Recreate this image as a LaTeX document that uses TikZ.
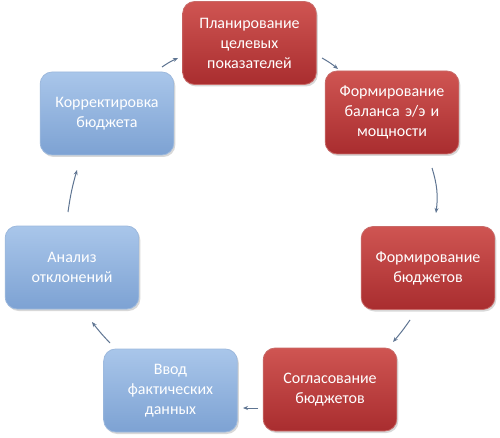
\documentclass[tikz,border=0pt]{standalone}
\usepackage{fontspec}
\setmainfont{Carlito}
\usetikzlibrary{arrows.meta,shadows}
\definecolor{redtop}{HTML}{CF5552}
\definecolor{redbot}{HTML}{A92D2F}
\definecolor{redline}{HTML}{C86A68}
\definecolor{bluetop}{HTML}{A9C6EA}
\definecolor{bluebot}{HTML}{7DA2D3}
\definecolor{blueline}{HTML}{9DB9DD}
\definecolor{arrowcol}{HTML}{5F7592}
\tikzset{
  box/.style={rounded corners=12pt, minimum width=133pt, minimum height=83pt,
    text width=127pt, align=center, text=white, font=\fontsize{16}{20}\selectfont,
    drop shadow={shadow xshift=1.5pt, shadow yshift=-2pt, opacity=0.3}},
  redbox/.style={box, draw=redline, line width=0.8pt, top color=redtop, bottom color=redbot},
  bluebox/.style={box, draw=blueline, line width=0.8pt, top color=bluetop, bottom color=bluebot},
  flow/.style={draw=arrowcol, line width=1pt, -{Stealth[length=5pt,width=4pt]}}
}
\begin{document}
\begin{tikzpicture}[x=1pt,y=1pt]
\useasboundingbox (0,0) rectangle (500,437);
\fill[white] (0,0) rectangle (500,437);
\node[redbox] (plan) at (249.5,394) {Планирование\\целевых\\показателей};
\node[redbox] (bal) at (392,324.5) {Формирование\\баланса э/э и\\мощности};
\node[redbox] (form) at (428,169) {Формирование\\бюджетов};
\node[redbox] (agree) at (330,47.5) {Согласование\\бюджетов};
\node[bluebox] (input) at (170.5,46.5) {Ввод\\фактических\\данных};
\node[bluebox] (anal) at (72,169.5) {Анализ\\отклонений};
\node[bluebox] (corr) at (107,323.5) {Корректировка\\бюджета};
% arrow end points on the circle
\coordinate (a1s) at (322,379);
\coordinate (a1e) at (338,368);
\coordinate (a2s) at (432,269);
\coordinate (a2e) at (436,224);
\coordinate (a3s) at (410,117);
\coordinate (a3e) at (393,95);
\coordinate (a4s) at (258,29);
\coordinate (a4e) at (243,29);
\coordinate (a5s) at (110,94);
\coordinate (a5e) at (92,115);
\coordinate (a6s) at (68,225);
\coordinate (a6e) at (77,267);
\coordinate (a7s) at (162,370);
\coordinate (a7e) at (178,379);
\draw[flow] (a1s) to[bend left=5] (a1e);
\draw[flow] (a2s) to[bend left=12] (a2e);
\draw[flow] (a3s) to[bend left=3] (a3e);
\draw[flow] (a4s) -- (a4e);
\draw[flow] (a5s) to[bend left=3] (a5e);
\draw[flow] (a6s) to[bend left=4] (a6e);
\draw[flow] (a7s) to[bend left=5] (a7e);
\end{tikzpicture}
\end{document}
